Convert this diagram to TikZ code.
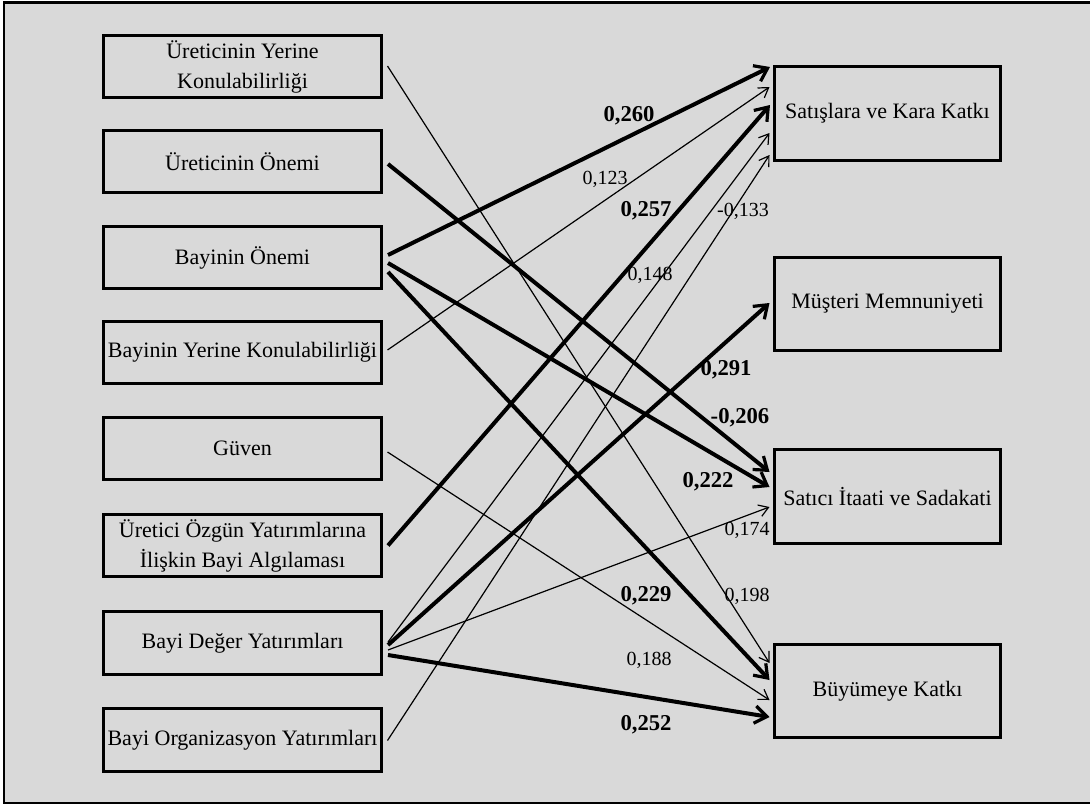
\documentclass[tikz,border=0pt]{standalone}
\usepackage{fontspec}
\setmainfont{Liberation Serif}
\usetikzlibrary{arrows.meta,calc}
\definecolor{panel}{HTML}{D9D9D9}
\begin{document}
\begin{tikzpicture}[x=0.75pt,y=-0.75pt,
  box/.style={draw=black,line width=2.2pt,fill=panel,inner sep=0pt,outer sep=0pt,
    align=center,font=\fontsize{16.5}{22.5}\selectfont},
  leftbox/.style={box,minimum width=208.5pt,minimum height=47pt},
  rightbox/.style={box,minimum width=169.5pt,minimum height=70pt},
  strong/.style={line width=3pt,-{Straight Barb[length=9pt,width=13pt,line width=2.4pt]}},
  weak/.style={line width=0.9pt,-{Straight Barb[length=7pt,width=9pt]}},
  coef/.style={font=\fontsize{15}{15}\selectfont,inner sep=0pt},
  bcoef/.style={font=\fontsize{17}{17}\selectfont\bfseries,inner sep=0pt}]

% canvas and frame
\useasboundingbox (0,0) rectangle (1090,807);
\clip (0,0) rectangle (1090,807);
\draw[line width=2pt,fill=panel] (4,2.5) rectangle (1100,803);

% predictor constructs
\node[leftbox] (uy)   at (242.5,66.5)  {Üreticinin Yerine\\Konulabilirliği};
\node[leftbox] (uo)   at (242.5,161.5) {Üreticinin Önemi};
\node[leftbox] (bo)   at (242.5,257.5) {Bayinin Önemi};
\node[leftbox] (by)   at (242.5,352.5) {Bayinin Yerine Konulabilirliği};
\node[leftbox] (gv)   at (242.5,448.5) {Güven};
\node[leftbox] (uoz)  at (242.5,545.5) {Üretici Özgün Yatırımlarına\\İlişkin Bayi Algılaması};
\node[leftbox] (bd)   at (242.5,643)   {Bayi Değer Yatırımları};
\node[leftbox] (borg) at (242.5,740)   {Bayi Organizasyon Yatırımları};

% outcome constructs
\node[rightbox] (sk) at (887.5,113.5) {Satışlara ve Kara Katkı};
\node[rightbox] (mm) at (887.5,304)   {Müşteri Memnuniyeti};
\node[rightbox] (si) at (887.5,496.5) {Satıcı İtaati ve Sadakati};
\node[rightbox] (bk) at (887.5,691)   {Büyümeye Katkı};

% paths
\draw[weak]   ($(uy.east)+(6,-0.5)$)   -- ($(bk.west)+(-5,-28)$);
\draw[strong] ($(uo.east)+(6.5,2.5)$)  -- ($(si.west)+(-5,-24.5)$);
\draw[strong] ($(bo.east)+(6.5,-2.5)$) -- ($(sk.west)+(-4.5,-46.5)$);
\draw[strong] ($(bo.east)+(6.5,5.5)$)  -- ($(si.west)+(-5,-9.5)$);
\draw[strong] ($(bo.east)+(6.5,14.5)$) -- ($(bk.west)+(-5,-11)$);
\draw[weak]   ($(by.east)+(6,-2.5)$)   -- ($(sk.west)+(-5,-26.5)$);
\draw[weak]   ($(gv.east)+(6,3.5)$)    -- ($(bk.west)+(-5,9)$);
\draw[strong] ($(uoz.east)+(6.5,0)$)   -- ($(sk.west)+(-4.5,-8.5)$);
\draw[weak]   ($(bd.east)+(6.5,-1)$)   -- ($(sk.west)+(-5,19.5)$);
\draw[strong] ($(bd.east)+(6.5,2)$)    -- ($(mm.west)+(-5,-1)$);
\draw[weak]   ($(bd.east)+(6.5,7)$)    -- ($(si.west)+(-5,10.5)$);
\draw[strong] ($(bd.east)+(6.5,12)$)   -- ($(bk.west)+(-5,26)$);
\draw[weak]   ($(borg.east)+(6,0.5)$)  -- ($(sk.west)+(-5,41.5)$);

% path coefficients
\node[bcoef] (c260) at (629,116) {0,260};
\node[coef]  (c123) at (605,179) {0,123};
\node[bcoef] (c257) at (646,211) {0,257};
\node[coef]  (c133) at (743,211) {-0,133};
\node[coef]  (c148) at (650,275) {0,148};
\node[bcoef] (c291) at (726,370) {0,291};
\node[bcoef] (c206) at (740,418) {-0,206};
\node[bcoef] (c222) at (708,482) {0,222};
\node[coef]  (c174) at (747,530) {0,174};
\node[bcoef] (c229) at (646,596) {0,229};
\node[coef]  (c198) at (747,596) {0,198};
\node[coef]  (c188) at (649,660) {0,188};
\node[bcoef] (c252) at (646,725) {0,252};
\end{tikzpicture}
\end{document}
